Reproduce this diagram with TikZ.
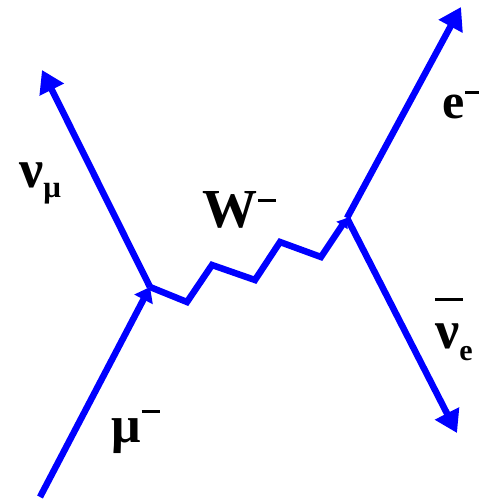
\documentclass[tikz,border=0pt]{standalone}
\usepackage{fontspec}
\setmainfont{Liberation Serif}
\usetikzlibrary{arrows.meta}
\definecolor{lineblue}{RGB}{0,0,255}
\tikzset{
  fermion/.style={draw=lineblue, line width=6.5pt, line join=miter},
  bigtip/.style={-{Triangle[length=22pt,width=26pt]}},
  vtip/.style={-{Triangle[length=14pt,width=20pt]}},
  smalltip/.style={-{Triangle[length=9pt,width=13pt]}},
  lbl/.style={inner sep=0pt, anchor=base west, font=\bfseries}
}
\begin{document}
\begin{tikzpicture}[x=1pt,y=-1pt]
\useasboundingbox (0,0) rectangle (487,501);
% vertices and ends
\coordinate (v1) at (150,287);
\coordinate (v2) at (347,218);
\coordinate (muin) at (40,497);
\coordinate (numu) at (42,70);
\coordinate (eout) at (461,7);
\coordinate (nueb) at (457,433);
\coordinate (w1) at (187,302);
\coordinate (w2) at (212,265);
\coordinate (w3) at (255,280);
\coordinate (w4) at (280,242);
\coordinate (w5) at (321,257);
% lines
\draw[fermion, vtip] (muin) -- (v1);
\draw[fermion, bigtip] (v1) -- (numu);
\draw[fermion, smalltip] (v1) -- (w1) -- (w2) -- (w3) -- (w4) -- (w5) -- (v2);
\draw[fermion, bigtip] (v2) -- (eout);
\draw[fermion, bigtip] (v2) -- (nueb);
% labels
\node[lbl, font=\bfseries\fontsize{55}{55}\selectfont] (lw) at (202,227)
  {W\hspace{1pt}\raisebox{25pt}{\rule{18pt}{3pt}}};
\node[lbl, font=\bfseries\fontsize{50}{50}\selectfont] (le) at (442,118)
  {e\hspace{1pt}\raisebox{24pt}{\rule{14pt}{3pt}}};
\node[lbl, font=\bfseries\fontsize{54}{54}\selectfont] (lnumu) at (19,187)
  {ν\raisebox{-10pt}{\fontsize{31}{31}\selectfont μ}};
\node[lbl, font=\bfseries\fontsize{54}{54}\selectfont] (lnue) at (435,348)
  {\rlap{\raisebox{47pt}{\rule{28pt}{3.5pt}}}ν\raisebox{-12pt}{\fontsize{30}{30}\selectfont e}};
\node[lbl, font=\bfseries\fontsize{52}{52}\selectfont] (lmu) at (111,442)
  {μ\hspace{1pt}\raisebox{29pt}{\rule{18pt}{3pt}}};
\end{tikzpicture}
\end{document}
